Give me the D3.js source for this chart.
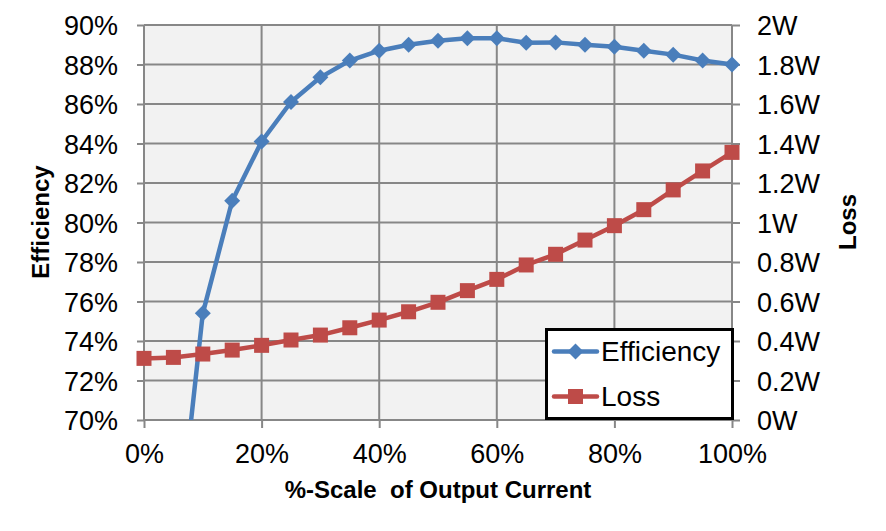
<!DOCTYPE html>
<html>
<head>
<meta charset="utf-8">
<script src="https://cdn.jsdelivr.net/npm/d3@7"></script>
<style>
  html, body { margin: 0; padding: 0; background: #ffffff; }
  svg { display: block; }
</style>
</head>
<body>
<svg id="chart" width="886" height="531"></svg>
<script>
// ---- Data ----
const scalePct = [0, 5, 10, 15, 20, 25, 30, 35, 40, 45, 50, 55, 60, 65, 70, 75, 80, 85, 90, 95, 100];
const efficiency = [null, 61.8, 75.4, 81.1, 84.1, 86.1, 87.35, 88.2, 88.7, 89.0, 89.2, 89.33, 89.33, 89.1, 89.12, 89.0, 88.9, 88.7, 88.5, 88.2, 88.0];
const lossW = [0.312, 0.317, 0.334, 0.354, 0.378, 0.405, 0.430, 0.467, 0.506, 0.548, 0.596, 0.655, 0.712, 0.785, 0.839, 0.911, 0.984, 1.065, 1.165, 1.261, 1.355];
const xTicks = [0, 20, 40, 60, 80, 100];
const effTicks = [70, 72, 74, 76, 78, 80, 82, 84, 86, 88, 90];
const lossTicks = [0, 0.2, 0.4, 0.6, 0.8, 1.0, 1.2, 1.4, 1.6, 1.8, 2.0];
const seriesNames = ["Efficiency", "Loss"];

// ---- Layout ----
const L = 144, R = 732, T = 25, B = 420;
const FONT = "'Liberation Sans', Arial, sans-serif";
const BLUE = "#4A7EBB", RED = "#BE4B48", GRID = "#878787";

const svg = d3.select("#chart");
const x = d3.scaleLinear().domain([0, 100]).range([L, R]);
const yL = d3.scaleLinear().domain([70, 90]).range([B, T]);
const yR = d3.scaleLinear().domain([0, 2]).range([B, T]);

// plot background
svg.append("rect").attr("x", L).attr("y", T).attr("width", R - L).attr("height", B - T).attr("fill", "#F2F2F2");

// gridlines
svg.append("g").selectAll("line").data(effTicks).join("line")
  .attr("x1", L).attr("x2", R).attr("y1", d => yL(d)).attr("y2", d => yL(d))
  .attr("stroke", GRID).attr("stroke-width", 2);
svg.append("g").selectAll("line").data(xTicks).join("line")
  .attr("x1", d => x(d)).attr("x2", d => x(d)).attr("y1", T).attr("y2", B)
  .attr("stroke", GRID).attr("stroke-width", 2);

// axes
function styleAxis(g) {
  g.select(".domain").remove();
  g.selectAll(".tick line").attr("stroke", GRID).attr("stroke-width", 2);
  g.selectAll(".tick text").attr("fill", "#000").style("font-family", FONT).style("font-size", "27px");
}
const axL = svg.append("g").attr("transform", `translate(${L},0)`)
  .call(d3.axisLeft(yL).tickValues(effTicks).tickSize(7).tickPadding(19).tickFormat(d => d + "%"));
styleAxis(axL);
axL.selectAll(".tick text").attr("dy", "0.36em");

const axR = svg.append("g").attr("transform", `translate(${R},0)`)
  .call(d3.axisRight(yR).tickValues(lossTicks).tickSize(8).tickPadding(17).tickFormat(d => (+d.toFixed(1)) + "W"));
styleAxis(axR);
axR.selectAll(".tick text").attr("dy", "0.36em");

const axB = svg.append("g").attr("transform", `translate(0,${B})`)
  .call(d3.axisBottom(x).tickValues(xTicks).tickSize(8).tickFormat(d => d + "%"));
styleAxis(axB);
axB.selectAll(".tick text").attr("y", 43).attr("dy", 0);

// axis titles
svg.append("text").attr("transform", "translate(49,222) rotate(-90)").attr("text-anchor", "middle")
  .style("font-family", FONT).style("font-size", "24px").style("font-weight", "bold").text("Efficiency");
svg.append("text").attr("transform", "translate(856,222) rotate(-90)").attr("text-anchor", "middle")
  .style("font-family", FONT).style("font-size", "24px").style("font-weight", "bold").text("Loss");
svg.append("text").attr("x", 438).attr("y", 498).attr("text-anchor", "middle")
  .style("font-family", FONT).style("font-size", "24px").style("font-weight", "bold")
  .style("white-space", "pre").text("%-Scale  of Output Current");

// clip
svg.append("defs").append("clipPath").attr("id", "plotclip")
  .append("rect").attr("x", L - 10).attr("y", T - 10).attr("width", R - L + 20).attr("height", B - T + 10);

const effData = scalePct.map((p, i) => ({ p, v: efficiency[i] })).filter(d => d.v !== null);
const lossData = scalePct.map((p, i) => ({ p, v: lossW[i] }));

const plot = svg.append("g").attr("clip-path", "url(#plotclip)");

const diamond = s => `M0,${-s}L${s},0L0,${s}L${-s},0Z`;

// Efficiency
plot.append("path").datum(effData)
  .attr("d", d3.line().x(d => x(d.p)).y(d => yL(d.v)))
  .attr("fill", "none").attr("stroke", BLUE).attr("stroke-width", 4.5).attr("stroke-linejoin", "round");
plot.append("g").selectAll("path").data(effData.filter(d => d.v >= 70)).join("path")
  .attr("transform", d => `translate(${x(d.p)},${yL(d.v)})`)
  .attr("d", diamond(8)).attr("fill", BLUE);

// Loss
plot.append("path").datum(lossData)
  .attr("d", d3.line().x(d => x(d.p)).y(d => yR(d.v)))
  .attr("fill", "none").attr("stroke", RED).attr("stroke-width", 4.5).attr("stroke-linejoin", "round");
plot.append("g").selectAll("rect").data(lossData).join("rect")
  .attr("x", d => x(d.p) - 7.5).attr("y", d => yR(d.v) - 7.5).attr("width", 15).attr("height", 15)
  .attr("fill", RED);

// Legend
const lg = svg.append("g");
lg.append("rect").attr("x", 546.5).attr("y", 329.5).attr("width", 186).attr("height", 89)
  .attr("fill", "#fff").attr("stroke", "#000").attr("stroke-width", 3);
const rows = [{ name: seriesNames[0], c: BLUE, y: 351.5, m: "d" }, { name: seriesNames[1], c: RED, y: 396.5, m: "s" }];
rows.forEach(r => {
  lg.append("line").attr("x1", 554).attr("x2", 597).attr("y1", r.y).attr("y2", r.y)
    .attr("stroke", r.c).attr("stroke-width", 4.5).attr("stroke-linecap", "round");
  if (r.m === "d") {
    lg.append("path").attr("transform", `translate(575.5,${r.y})`).attr("d", diamond(8)).attr("fill", r.c);
  } else {
    lg.append("rect").attr("x", 568).attr("y", r.y - 7.5).attr("width", 15).attr("height", 15).attr("fill", r.c);
  }
  lg.append("text").attr("x", 601).attr("y", r.y + 9)
    .style("font-family", FONT).style("font-size", "28px").attr("fill", "#000").text(r.name);
});
</script>
</body>
</html>
